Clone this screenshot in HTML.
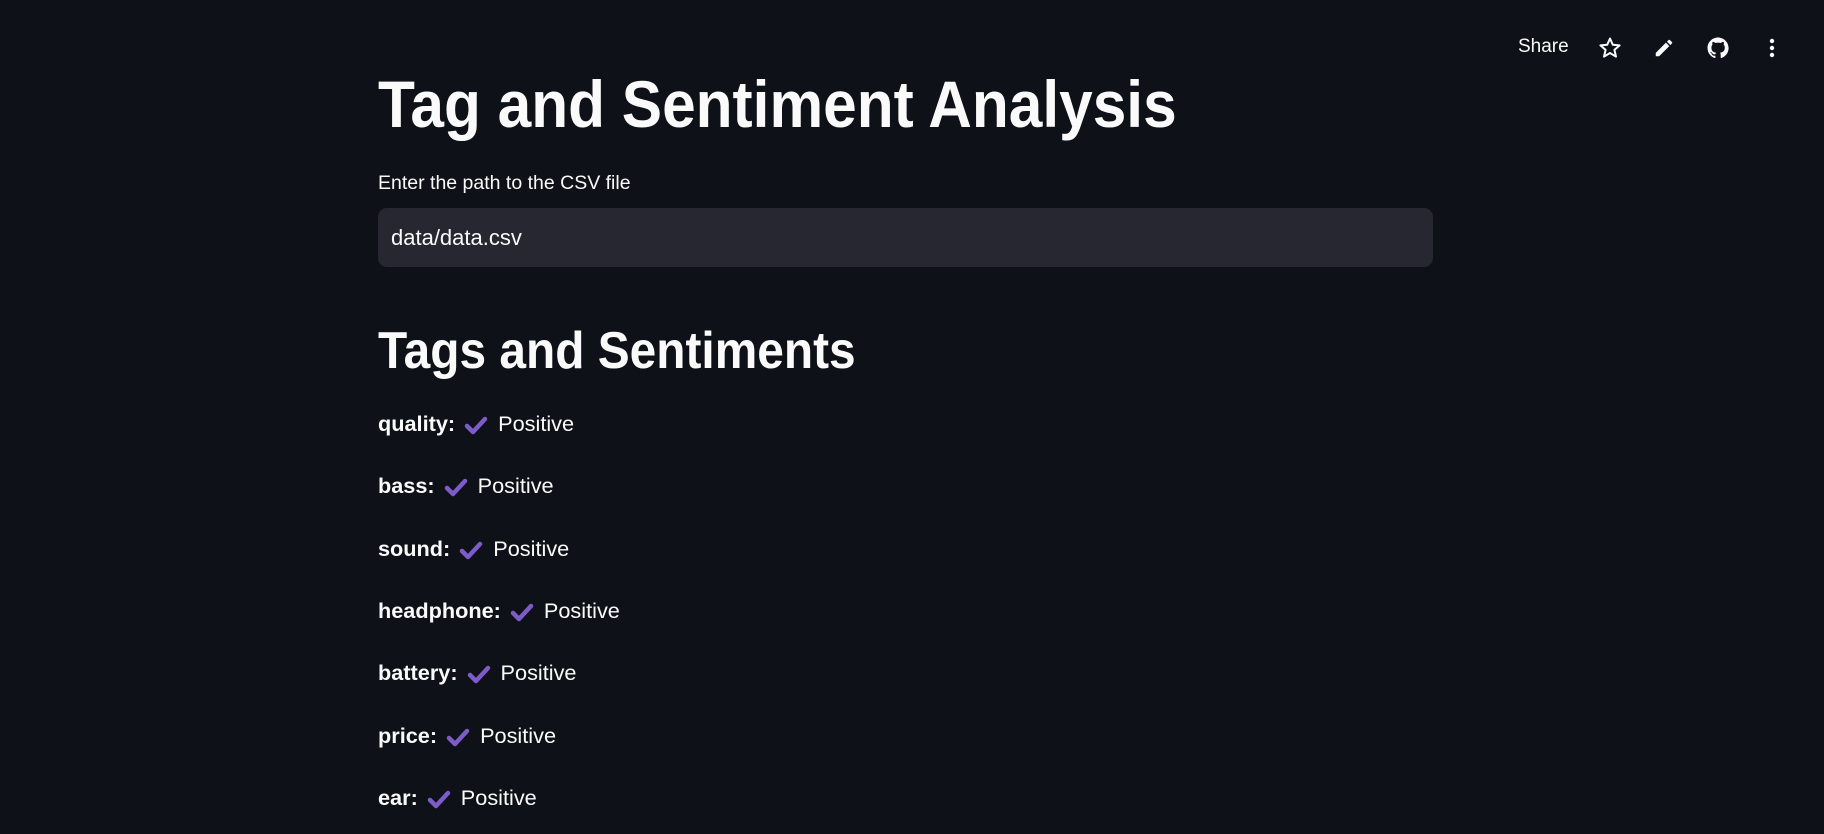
<!DOCTYPE html>
<html><head><meta charset="utf-8"><style>
html,body{margin:0;padding:0;width:1824px;height:834px;overflow:hidden;background:#0e1117;color:#fafafa;font-family:"Liberation Sans",sans-serif}
.a{position:absolute;white-space:nowrap}
.row{position:absolute;left:378px;font-size:21.7px;white-space:nowrap;line-height:26px}
.row b{font-weight:bold}
.row svg{vertical-align:-4px;margin:0 10px 0 9px}
</style></head><body>
<div class="a" style="left:1518px;top:36px;font-size:19px">Share</div>
<svg class="a" style="left:1598px;top:36px" width="24" height="24" viewBox="0 0 24 24"><path d="M12 2.5l2.8 6.3 6.8.6-5.2 4.5 1.6 6.7L12 17l-6 3.6 1.6-6.7-5.2-4.5 6.8-.6z" fill="none" stroke="#fafafa" stroke-width="2" stroke-linejoin="round"/></svg>
<svg class="a" style="left:1653px;top:37px" width="22" height="22" viewBox="0 0 24 24"><path d="M3 17.3V21h3.7L17.8 9.9l-3.7-3.7zM20.7 7c.4-.4.4-1 0-1.4l-2.3-2.3c-.4-.4-1-.4-1.4 0l-1.8 1.8 3.7 3.7z" fill="#fafafa"/></svg>
<svg class="a" style="left:1706px;top:36px" width="24" height="24" viewBox="0 0 24 24"><path d="M12 1.5C6.2 1.5 1.5 6.2 1.5 12c0 4.6 3 8.6 7.200 10 .5.1.7-.2.7-.5v-1.8c-2.9.6-3.5-1.400-3.5-1.400-.5-1.200-1.200-1.500-1.200-1.500-1-.7.1-.7.1-.7 1 .1 1.600 1.100 1.600 1.100.9 1.600 2.500 1.200 3.100.9.1-.7.4-1.200.7-1.400-2.300-.3-4.800-1.200-4.800-5.200 0-1.100.4-2.100 1.100-2.800-.1-.3-.5-1.300.1-2.800 0 0 .9-.3 2.900 1.100a10 10 0 015.200 0c2-1.400 2.900-1.100 2.900-1.100.6 1.500.2 2.500.1 2.800.7.8 1.100 1.700 1.100 2.800 0 4-2.500 4.900-4.800 5.200.4.3.7 1 .7 1.900v2.900c0 .3.2.6.7.5 4.200-1.400 7.200-5.400 7.200-10C22.500 6.200 17.800 1.500 12 1.500z" fill="#fafafa"/></svg>
<svg class="a" style="left:1760px;top:36px" width="24" height="24" viewBox="0 0 24 24"><circle cx="12" cy="5" r="2.2" fill="#fafafa"/><circle cx="12" cy="12" r="2.2" fill="#fafafa"/><circle cx="12" cy="19" r="2.2" fill="#fafafa"/></svg>

<div class="a" style="left:378px;top:66px;font-size:66px;font-weight:bold;line-height:76px;transform-origin:left top;transform:scaleX(0.915)">Tag and Sentiment Analysis</div>
<div class="a" style="left:378px;top:172px;font-size:19.5px">Enter the path to the CSV file</div>
<div class="a" style="left:378px;top:208px;width:1055px;height:59px;background:#262730;border-radius:9px"></div>
<div class="a" style="left:391px;top:225px;font-size:22px">data/data.csv</div>
<div class="a" style="left:378px;top:321px;font-size:52px;font-weight:bold;line-height:60px;transform-origin:left top;transform:scaleX(0.92)">Tags and Sentiments</div>

<div id="rows"></div>
<script>
const tags=["quality","bass","sound","headphone","battery","price","ear"];
const sentiments=["Positive","Positive","Positive","Positive","Positive","Positive","Positive"];
const c=document.getElementById('rows');
tags.forEach((t,i)=>{
  const d=document.createElement('div');
  d.className='row';
  d.style.top=(411+i*62.3)+'px';
  
  
  d.innerHTML='<b>'+t+':</b><svg width="24" height="20" viewBox="0 0 24 20"><path d="M3 11l6 6L21 4" fill="none" stroke="#7d5bc9" stroke-width="4.5" stroke-linecap="round" stroke-linejoin="round"/></svg>'+sentiments[i];
  c.appendChild(d);
});
</script>
</body></html>
